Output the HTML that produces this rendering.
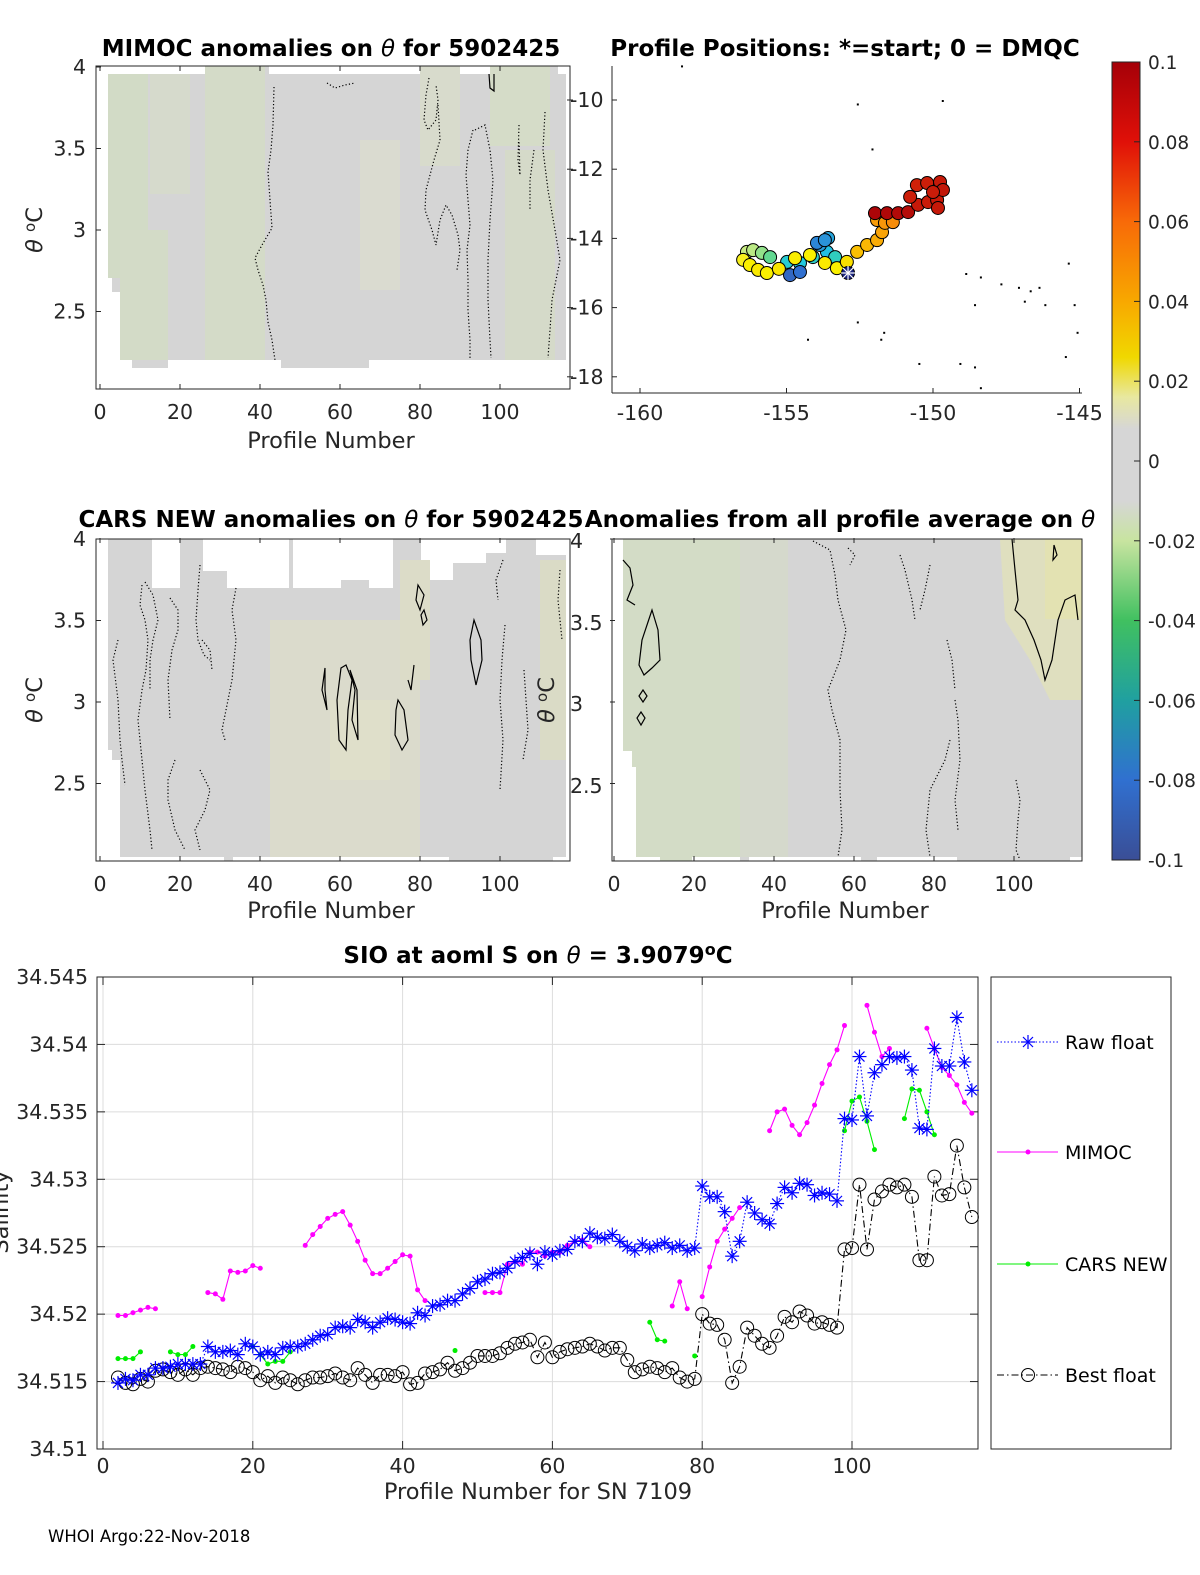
<!DOCTYPE html>
<html><head><meta charset="utf-8"><style>
body{margin:0;background:#fff}
svg{display:block;font-family:"DejaVu Sans","Liberation Sans",sans-serif}
.t{font-size:20.5px;fill:#262626}
.ttl{font-size:23px;font-weight:bold;fill:#000}
.lbl{font-size:22.5px;fill:#262626}
</style></head><body>
<svg id="fig" width="1200" height="1575" viewBox="0 0 1200 1575" xmlns="http://www.w3.org/2000/svg">
<defs>
<linearGradient id="cbg" x1="0" y1="0" x2="0" y2="1">
<stop offset="0" stop-color="#a50008"/><stop offset="0.1" stop-color="#e01008"/><stop offset="0.2" stop-color="#f86a08"/><stop offset="0.3" stop-color="#f8a800"/><stop offset="0.37" stop-color="#f0d800"/><stop offset="0.42" stop-color="#e8e8a0"/><stop offset="0.46" stop-color="#d6d6d6"/><stop offset="0.55" stop-color="#d6d6d6"/><stop offset="0.6" stop-color="#c8e4a0"/><stop offset="0.7" stop-color="#40c060"/><stop offset="0.8" stop-color="#20a0a0"/><stop offset="0.9" stop-color="#3070d0"/><stop offset="1" stop-color="#3a4e96"/>
</linearGradient>
</defs>

<!-- Titles -->
<text class="ttl" x="331" y="56" text-anchor="middle">MIMOC anomalies on <tspan font-style="italic" font-weight="normal">θ</tspan>  for 5902425</text>
<text class="ttl" x="845" y="56" text-anchor="middle">Profile Positions: *=start; 0 = DMQC</text>
<text class="ttl" x="331" y="527" text-anchor="middle">CARS NEW anomalies on <tspan font-style="italic" font-weight="normal">θ</tspan> for 5902425</text>
<text class="ttl" x="840" y="527" text-anchor="middle">Anomalies from all profile average on <tspan font-style="italic" font-weight="normal">θ</tspan></text>
<text class="ttl" x="538" y="963" text-anchor="middle">SIO at aoml S on <tspan font-style="italic" font-weight="normal">θ</tspan> = 3.9079<tspan dy="-8" font-size="16">o</tspan><tspan dy="8">C</tspan></text>

<!-- Top-left heatmap -->
<g>
<polygon fill="#d5d5d5" points="108,74 220,74 220,66 269,66 269,74 490,74 490,66 558,66 558,74 566,74 566,360 369,360 369,368 281,368 281,360 168,360 168,368 132,368 132,360 120,360 120,292 112,292 112,278 108,278"/>
<rect x="108" y="74" width="40" height="204" fill="#d2dbc6"/>
<rect x="120" y="230" width="48" height="130" fill="#d3dbc7"/>
<rect x="150" y="74" width="40" height="120" fill="#d6dacc"/>
<rect x="205" y="66" width="60" height="294" fill="#d4dbc8"/>
<rect x="360" y="140" width="40" height="150" fill="#dadbd0"/>
<rect x="420" y="66" width="40" height="100" fill="#d8dbcc"/>
<rect x="490" y="66" width="60" height="80" fill="#d5dcc8"/>
<rect x="505" y="150" width="50" height="210" fill="#d5dac9"/>
<g fill="none" stroke="#000" stroke-width="1.2" stroke-dasharray="1.2,2.2">
<polyline points="274,87 273,125 271,150 268,172 270,200 272,228 262,245 255,258 258,270 263,285 266,300 268,322 272,340 275,360"/>
<polyline points="429,78 426,95 424,120 428,130 436,120 438,100 436,85"/>
<polyline points="438,105 440,140 434,160 426,190 425,210 432,230 436,245 440,220 446,205 452,215 458,235 460,250 457,270"/>
<polyline points="473,130 468,150 466,175 468,200 470,225 467,250 468,280 468,310 470,340 470,358"/>
<polyline points="475,130 485,125 490,150 493,180 490,220 488,260 488,300 490,340 491,358"/>
<polyline points="519,125 518,160 520,175 519,140"/>
<polyline points="545,112 543,150 548,190 555,230 560,260 552,300 550,330 548,358"/>
<polyline points="534,150 530,180 530,210"/>
<polyline points="327,83 335,88 345,85 355,83"/>
</g>
<polyline points="489,74 490,88 494,91 494,74" fill="none" stroke="#000" stroke-width="1.2"/>
</g>
<rect x="96" y="66" width="474" height="323" fill="none" stroke="#262626" stroke-width="1"/>

<!-- Middle-left heatmap -->
<g>
<polygon fill="#d5d5d5" points="108,539 152,539 152,588 180,588 180,539 203,539 203,571 227,571 227,588 289,588 289,539 293,539 293,588 341,588 341,580 369,580 369,588 393,588 393,539 421,539 421,580 453,580 453,563 486,563 486,553 506,553 506,539 536,539 536,555 566,555 566,857 553,857 553,861 449,861 449,857 233,857 233,861 224,861 224,857 120,857 120,760 112,760 112,750 108,750"/>
<rect x="270" y="620" width="150" height="237" fill="#dbdbcc"/>
<rect x="330" y="700" width="60" height="80" fill="#dfdfca"/>
<rect x="400" y="560" width="30" height="120" fill="#dcdcc8"/>
<rect x="540" y="560" width="26" height="200" fill="#dadbc6"/>
<g fill="none" stroke="#000" stroke-width="1.2" stroke-dasharray="1.2,2.2">
<polyline points="142,585 140,605 145,620 148,640 146,670 142,690 138,720 142,760 145,790 150,830 152,850"/>
<polyline points="145,582 153,595 158,620 153,640 150,660 150,690"/>
<polyline points="118,640 113,660 118,700 120,740 122,760 125,785"/>
<polyline points="170,598 178,610 178,630 172,650 168,680 170,720"/>
<polyline points="200,565 198,590 196,620 198,640 204,655 210,660"/>
<polyline points="236,588 232,610 236,640 232,680 226,710 222,730 225,740"/>
<polyline points="202,640 210,650 212,670"/>
<polyline points="175,760 168,780 168,800 175,830 185,850"/>
<polyline points="200,770 210,790 205,810 195,830 200,850"/>
<polyline points="503,560 496,580 498,600"/>
<polyline points="505,625 502,660 500,700 503,740 500,790"/>
<polyline points="524,670 526,700 528,730 523,760"/>
<polyline points="560,570 558,600 562,640"/>
</g>
<g fill="none" stroke="#000" stroke-width="1.2">
<polygon points="418,585 424,595 420,610 416,600"/>
<polygon points="424,610 427,620 423,625 421,615"/>
<polyline points="414,665 411,690 408,680"/>
<polygon points="325,668 322,690 327,710 325,690"/>
<polygon points="341,668 337,700 339,740 346,750 348,710 352,680 346,665"/>
<polygon points="350,670 357,690 358,740 352,720 355,690"/>
<polygon points="398,700 404,710 408,740 402,750 395,735 396,710"/>
<polygon points="474,620 481,640 482,660 476,685 471,660 470,640"/>
</g>
</g>
<rect x="96" y="539" width="474" height="322" fill="none" stroke="#262626" stroke-width="1"/>

<!-- Middle-right heatmap -->
<g>
<polygon fill="#d5d5d5" points="623,539 1082,539 1082,857 1070,857 1070,861 957,861 957,857 877,857 877,861 861,861 861,857 749,857 749,861 740,861 740,857 692,857 692,861 660,861 660,857 636,857 636,767 632,767 632,751 623,751"/>
<polygon fill="#d3dcc6" points="623,539 740,539 740,857 636,857 636,767 632,767 632,751 623,751"/>
<rect x="740" y="539" width="48" height="318" fill="#d5d9cc"/>
<rect x="660" y="857" width="32" height="4" fill="#d3dcc6"/>
<polygon fill="#dfdfbf" points="1000,539 1082,539 1082,700 1050,700 1030,660 1005,620"/>
<rect x="1045" y="539" width="37" height="80" fill="#e3e2b2"/>
<g fill="none" stroke="#000" stroke-width="1.2" stroke-dasharray="1.2,2.2">
<polyline points="813,541 830,550 835,575 838,600 846,630 840,660 828,690 832,710 840,740 840,790 842,830 838,857"/>
<polyline points="848,548 855,555 850,565"/>
<polyline points="900,555 905,570 912,600 915,620"/>
<polyline points="930,565 925,590 920,610"/>
<polyline points="950,740 945,760 930,790 926,830 930,857"/>
<polyline points="955,700 958,720 960,760 955,800 958,830"/>
<polyline points="947,640 952,660 955,690"/>
<polyline points="1016,780 1020,800 1018,820"/>
<polyline points="1018,820 1016,850 1020,860"/>
</g>
<g fill="none" stroke="#000" stroke-width="1.2">
<polyline points="623,560 630,568 633,585 627,600 635,605"/>
<polygon points="652,610 658,630 660,660 652,668 644,675 639,665 642,640 648,622"/>
<polygon points="643,690 647,696 643,702 639,696"/>
<polygon points="641,712 645,718 641,725 637,718"/>
<polyline points="1012,539 1015,570 1018,600 1015,610 1025,620 1034,640 1041,660 1045,680 1052,660 1058,620 1065,600 1075,595 1078,620"/>
<polygon points="1054,545 1057,555 1053,560"/>
</g>
</g>
<rect x="612" y="539" width="470" height="322" fill="none" stroke="#262626" stroke-width="1"/>

<!-- Map -->
<g id="map"></g>
<line x1="612" y1="66" x2="612" y2="393" stroke="#262626"/>
<line x1="612" y1="393" x2="1082" y2="393" stroke="#262626"/>

<!-- Colorbar -->
<rect x="1112" y="62" width="28" height="798" fill="url(#cbg)" stroke="#262626" stroke-width="1"/>
<g id="cbt"></g>

<!-- Axis tick labels (heatmaps) -->
<g id="hm-ticks"></g>
<text class="lbl" x="331" y="448" text-anchor="middle">Profile Number</text>
<text class="lbl" x="331" y="918" text-anchor="middle">Profile Number</text>
<text class="lbl" x="845" y="918" text-anchor="middle">Profile Number</text>
<text class="lbl" transform="translate(42,230) rotate(-90)" text-anchor="middle"><tspan font-style="italic">θ</tspan> <tspan dy="-7" font-size="15">o</tspan><tspan dy="7">C</tspan></text>
<text class="lbl" transform="translate(42,700) rotate(-90)" text-anchor="middle"><tspan font-style="italic">θ</tspan> <tspan dy="-7" font-size="15">o</tspan><tspan dy="7">C</tspan></text>
<text class="lbl" transform="translate(554,700) rotate(-90)" text-anchor="middle"><tspan font-style="italic">θ</tspan> <tspan dy="-7" font-size="15">o</tspan><tspan dy="7">C</tspan></text>

<!-- Bottom chart -->
<g id="bottom"></g>
<text class="lbl" x="538" y="1499" text-anchor="middle">Profile Number for SN 7109</text>
<text class="lbl" transform="translate(8,1212) rotate(-90)" text-anchor="middle">Salinity</text>
<g>
<rect x="991" y="977" width="180" height="472" fill="#fff" stroke="#262626"/>
<g>
<line x1="997" y1="1042" x2="1058" y2="1042" stroke="#0000ff" stroke-dasharray="1.5,2"/>
<g stroke="#0000ff" stroke-width="1.2"><line x1="1021" y1="1042" x2="1035" y2="1042"/><line x1="1028" y1="1035" x2="1028" y2="1049"/><line x1="1023" y1="1037" x2="1033" y2="1047"/><line x1="1023" y1="1047" x2="1033" y2="1037"/></g>
<text x="1065" y="1049" font-size="19" fill="#000">Raw float</text></g>
<g>
<line x1="997" y1="1152" x2="1058" y2="1152" stroke="#ff00ff"/><circle cx="1028" cy="1152" r="2.5" fill="#ff00ff"/>
<text x="1065" y="1159" font-size="19" fill="#000">MIMOC</text></g>
<g>
<line x1="997" y1="1264" x2="1058" y2="1264" stroke="#00ee00"/><circle cx="1028" cy="1264" r="2.5" fill="#00ee00"/>
<text x="1065" y="1271" font-size="19" fill="#000">CARS NEW</text></g>
<g>
<line x1="997" y1="1375" x2="1058" y2="1375" stroke="#000" stroke-dasharray="7,3,1.5,3"/><circle cx="1028" cy="1375" r="6.5" fill="none" stroke="#000"/>
<text x="1065" y="1382" font-size="19" fill="#000">Best float</text></g>
</g>
<text x="48" y="1542" font-size="16.5" fill="#000">WHOI Argo:22-Nov-2018</text>
</svg>
<script>
// ---- bottom chart data (profile 2..116) ----
const firstProfile = 2;
const rawFloat = [34.5149,34.5152,34.5151,34.5155,34.5155,34.5160,34.5160,34.5161,34.5163,34.5163,34.5163,34.5163,34.5176,34.5172,34.5172,34.5173,34.5170,34.5178,34.5176,34.5170,34.5172,34.5170,34.5175,34.5176,34.5176,34.5178,34.5181,34.5184,34.5185,34.5190,34.5191,34.5190,34.5196,34.5194,34.5190,34.5194,34.5197,34.5196,34.5194,34.5193,34.5201,34.5199,34.5206,34.5207,34.5210,34.5210,34.5215,34.5219,34.5224,34.5226,34.5230,34.5231,34.5234,34.5239,34.5242,34.5245,34.5237,34.5246,34.5244,34.5247,34.5248,34.5254,34.5254,34.5260,34.5257,34.5256,34.5259,34.5254,34.5250,34.5247,34.5252,34.5249,34.5251,34.5253,34.5249,34.5251,34.5247,34.5249,34.5295,34.5287,34.5287,34.5276,34.5243,34.5254,34.5283,34.5275,34.5270,34.5267,34.5282,34.5294,34.5290,34.5297,34.5296,34.5288,34.5290,34.5289,34.5284,34.5345,34.5344,34.5391,34.5347,34.5379,34.5385,34.5391,34.5390,34.5391,34.5381,34.5338,34.5337,34.5397,34.5384,34.5384,34.5420,34.5387,34.5366];
const bestFloat = [34.5153,34.5149,34.5148,34.5152,34.5150,34.5158,34.5159,34.5157,34.5155,34.5159,34.5155,34.5160,34.5161,34.5160,34.5159,34.5157,34.5161,34.5160,34.5157,34.5151,34.5154,34.5149,34.5153,34.5151,34.5148,34.5151,34.5153,34.5153,34.5154,34.5156,34.5153,34.5151,34.5160,34.5155,34.5149,34.5155,34.5155,34.5154,34.5157,34.5148,34.5149,34.5156,34.5157,34.5159,34.5164,34.5158,34.5160,34.5164,34.5169,34.5169,34.5169,34.5171,34.5175,34.5178,34.5179,34.5181,34.5168,34.5179,34.5168,34.5172,34.5174,34.5175,34.5176,34.5178,34.5176,34.5173,34.5175,34.5175,34.5166,34.5157,34.5159,34.5161,34.5160,34.5157,34.5160,34.5153,34.5150,34.5152,34.5200,34.5193,34.5192,34.5181,34.5149,34.5161,34.5190,34.5184,34.5178,34.5175,34.5184,34.5198,34.5194,34.5202,34.5199,34.5193,34.5194,34.5192,34.5190,34.5248,34.5249,34.5296,34.5248,34.5285,34.5291,34.5296,34.5294,34.5296,34.5287,34.5240,34.5240,34.5302,34.5288,34.5289,34.5325,34.5294,34.5272];
const mimoc = [34.5199,34.5199,34.5201,34.5203,34.5205,34.5204,null,null,null,null,null,null,34.5216,34.5215,34.5211,34.5232,34.5231,34.5232,34.5236,34.5234,null,null,null,null,null,34.5251,34.5259,34.5265,34.5271,34.5274,34.5276,34.5266,34.5254,34.5240,34.5230,34.5230,34.5234,34.5239,34.5244,34.5243,34.5218,34.5210,null,null,null,null,null,null,null,34.5216,34.5216,34.5216,34.5237,34.5239,34.5237,34.5246,34.5246,34.5243,34.5246,34.5246,34.5251,34.5254,34.5255,34.5250,null,null,null,null,null,null,null,null,null,null,34.5206,34.5224,34.5204,null,34.5213,34.5235,34.5254,34.5263,34.5271,34.5279,null,null,null,34.5336,34.5350,34.5352,34.5340,34.5333,34.5342,34.5355,34.5371,34.5385,34.5396,34.5414,null,null,34.5429,34.5409,34.5391,34.5397,null,null,null,null,34.5412,34.5397,34.5383,34.5377,34.5370,34.5357,34.5349];
const carsNew = [34.5167,34.5167,34.5167,34.5172,null,null,null,34.5172,34.5170,34.5170,34.5176,null,null,null,null,null,null,null,34.5176,34.5170,34.5163,34.5165,34.5165,34.5172,null,null,null,null,null,null,null,null,null,null,null,null,null,null,null,null,null,null,null,null,null,34.5173,null,null,null,null,null,null,null,null,null,null,null,null,null,null,null,null,null,null,null,null,null,null,null,null,null,34.5194,34.5181,34.5180,null,null,null,34.5169,null,null,null,null,null,null,null,null,null,null,null,null,null,null,null,null,null,null,null,34.5336,34.5358,34.5361,34.5343,34.5322,null,null,null,34.5345,34.5367,34.5366,34.5350,34.5333,null,null,null,null,null];
const xTicks = [0,20,40,60,80,100];
const yTicks = [34.51,34.515,34.52,34.525,34.53,34.535,34.54,34.545];
const yTickLabels = ["34.51","34.515","34.52","34.525","34.53","34.535","34.54","34.545"];
// ---- map data ----
const trackLon = [-154.98,-154.54,-154.10,-153.62,-153.34,-153.86,-153.58,-154.88,-153.96,-153.69,-154.54,-156.35,-156.14,-155.84,-155.56,-156.48,-156.25,-155.97,-155.67,-155.26,-154.71,-154.20,-153.69,-153.28,-152.94,-152.59,-152.25,-151.91,-151.74,-151.91,-151.64,-151.37,-151.98,-151.57,-151.19,-150.85,-150.51,-150.17,-149.86,-150.78,-150.55,-150.20,-149.76,-149.66,-150.00,-149.83];
const trackLat = [-14.68,-14.71,-14.54,-14.39,-14.54,-14.19,-13.99,-15.06,-14.13,-14.05,-14.97,-14.39,-14.34,-14.42,-14.54,-14.62,-14.77,-14.91,-15.00,-14.88,-14.57,-14.48,-14.71,-14.86,-14.68,-14.39,-14.19,-14.05,-13.82,-13.47,-13.55,-13.53,-13.27,-13.27,-13.27,-13.24,-13.03,-12.95,-12.89,-12.80,-12.46,-12.40,-12.37,-12.60,-12.66,-13.12];
const trackVal = [-0.055,-0.058,-0.052,-0.062,-0.05,-0.07,-0.068,-0.085,-0.075,-0.072,-0.08,-0.02,-0.022,-0.028,-0.035,0.028,0.03,0.032,0.03,0.033,0.031,0.03,0.032,0.03,0.035,0.045,0.048,0.052,0.055,0.058,0.06,0.062,0.098,0.097,0.096,0.095,0.09,0.089,0.09,0.088,0.087,0.088,0.09,0.091,0.089,0.09];
const startLon = -152.9, startLat = -15.0;
const islandLon = [-148.9,-148.4,-147.7,-147.1,-146.7,-146.4,-145.4,-145.2,-146.9,-148.6,-146.2,-152.6,-151.7,-151.8,-154.3,-145.1,-145.5,-149.1,-148.6,-150.5,-148.4,-149.7,-152.6,-152.1,-158.6];
const islandLat = [-15.0,-15.1,-15.3,-15.4,-15.5,-15.4,-14.7,-15.9,-15.8,-15.9,-15.9,-16.4,-16.7,-16.9,-16.9,-16.7,-17.4,-17.6,-17.7,-17.6,-18.3,-10.0,-10.1,-11.4,-9.0];
const mapXTicks = [-160,-155,-150,-145];
const mapYTicks = [-10,-12,-14,-16,-18];
const cbTicks = [0.1,0.08,0.06,0.04,0.02,0,-0.02,-0.04,-0.06,-0.08,-0.1];
const hmXTicks = [0,20,40,60,80,100];
const hmYTicks = [4,3.5,3,2.5];

const NS = "http://www.w3.org/2000/svg";
function mk(parent, tag, attrs){const e=document.createElementNS(NS,tag);for(const k in attrs)e.setAttribute(k,attrs[k]);parent.appendChild(e);return e;}

// bottom chart axes
const bx = p => 103 + p*7.49;
const by = v => 977 + (34.545 - v)/0.035*472;
const B = document.getElementById('bottom');
for (const t of xTicks){const l=mk(B,'line',{x1:bx(t),x2:bx(t),y1:977,y2:1449,stroke:'#dcdcdc'});

}
for (const t of yTicks){const l=mk(B,'line',{x1:97,x2:978,y1:by(t),y2:by(t),stroke:'#dcdcdc'});

}
const frame = mk(B,'rect',{x:97,y:977,width:881,height:472,fill:'none',stroke:'#262626'});


xTicks.forEach(t=>{mk(B,'line',{x1:bx(t),x2:bx(t),y1:1449,y2:1441,stroke:'#262626'});mk(B,'line',{x1:bx(t),x2:bx(t),y1:977,y2:985,stroke:'#262626'});
const tx=mk(B,'text',{x:bx(t),y:1473,'text-anchor':'middle',class:'t'});tx.textContent=t;

});
yTicks.forEach((t,i)=>{mk(B,'line',{x1:97,x2:105,y1:by(t),y2:by(t),stroke:'#262626'});mk(B,'line',{x1:970,x2:978,y1:by(t),y2:by(t),stroke:'#262626'});
const tx=mk(B,'text',{x:88,y:by(t)+7,'text-anchor':'end',class:'t'});tx.textContent=yTickLabels[i];

});

function segs(arr){const out=[];let cur=[];arr.forEach((v,i)=>{if(v===null){if(cur.length)out.push(cur);cur=[];}else cur.push([bx(firstProfile+i),by(v)]);});if(cur.length)out.push(cur);return out;}
function drawLine(arr,color,dash,name){const g=mk(B,'g',{});


segs(arr).forEach(s=>{if(s.length>1)mk(g,'polyline',{points:s.map(p=>p.join(',')).join(' '),fill:'none',stroke:color,'stroke-width':1.1,'stroke-dasharray':dash||'none'});});return g;}

const gb=drawLine(bestFloat,'#000','7,3,1.5,3','best-float-series');
bestFloat.forEach((v,i)=>{if(v===null)return;const c=mk(gb,'circle',{cx:bx(firstProfile+i),cy:by(v),r:6.5,fill:'none',stroke:'#000','stroke-width':1});

});
const gm=drawLine(mimoc,'#ff00ff',null,'mimoc-series');
mimoc.forEach((v,i)=>{if(v===null)return;const c=mk(gm,'circle',{cx:bx(firstProfile+i),cy:by(v),r:2.5,fill:'#ff00ff'});

});
const gc=drawLine(carsNew,'#00ee00',null,'cars-new-series');
carsNew.forEach((v,i)=>{if(v===null)return;const c=mk(gc,'circle',{cx:bx(firstProfile+i),cy:by(v),r:2.5,fill:'#00ee00'});

});
const gr=drawLine(rawFloat,'#0000ff','1.5,2','raw-float-series');
rawFloat.forEach((v,i)=>{if(v===null)return;const x=bx(firstProfile+i),y=by(v);const s=mk(gr,'g',{stroke:'#0000ff','stroke-width':1.2});


mk(s,'line',{x1:x-7,x2:x+7,y1:y,y2:y});mk(s,'line',{x1:x,x2:x,y1:y-7,y2:y+7});mk(s,'line',{x1:x-5,x2:x+5,y1:y-5,y2:y+5});mk(s,'line',{x1:x-5,x2:x+5,y1:y+5,y2:y-5});});

// map
const mx = lon => 640 + (lon+160)*29.3;
const my = lat => 100 + (-10-lat)*34.6;
const M = document.getElementById('map');
function colorOf(v){const st=[[-0.1,[58,78,150]],[-0.08,[48,112,208]],[-0.06,[32,200,230]],[-0.04,[64,210,150]],[-0.02,[200,235,130]],[0,[214,214,214]],[0.02,[235,235,140]],[0.03,[250,240,0]],[0.04,[250,205,0]],[0.06,[248,150,10]],[0.08,[230,50,10]],[0.1,[165,0,8]]];
for(let i=0;i<st.length-1;i++){if(v<=st[i+1][0]){const f=(v-st[i][0])/(st[i+1][0]-st[i][0]);const c=st[i][1].map((a,k)=>Math.round(a+(st[i+1][1][k]-a)*Math.max(0,Math.min(1,f))));return `rgb(${c})`;}}return 'rgb(165,0,8)';}
islandLon.forEach((lo,i)=>{const r=mk(M,'rect',{x:mx(lo),y:my(islandLat[i]),width:2,height:2,fill:'#000'});

});
trackLon.forEach((lo,i)=>{const c=mk(M,'circle',{cx:mx(lo),cy:my(trackLat[i]),r:6.5,fill:colorOf(trackVal[i]),stroke:'#000','stroke-width':1});

});
const sx=mx(startLon),sy=my(startLat);
const sg=mk(M,'g',{});


mk(sg,'circle',{cx:sx,cy:sy,r:6.5,fill:'#1a237e',stroke:'#000'});
[[7,0],[0,7],[5,5],[5,-5]].forEach(d=>mk(sg,'line',{x1:sx-d[0],y1:sy-d[1],x2:sx+d[0],y2:sy+d[1],stroke:'#fff','stroke-width':1.2}));
mapXTicks.forEach(t=>{mk(M,'line',{x1:mx(t),x2:mx(t),y1:393,y2:388,stroke:'#262626'});const tx=mk(M,'text',{x:mx(t),y:420,'text-anchor':'middle',class:'t'});tx.textContent=t;

});
mapYTicks.forEach(t=>{mk(M,'line',{x1:612,x2:617,y1:my(t),y2:my(t),stroke:'#262626'});mk(M,'line',{x1:567,x2:573,y1:my(t),y2:my(t),stroke:'#262626'});const tx=mk(M,'text',{x:570,y:my(t)+7,class:'t'});tx.textContent=t;

});

// colorbar ticks
const cy = v => 62 + (0.1 - v)/0.2*798;
const CB=document.getElementById('cbt');
cbTicks.forEach(t=>{mk(CB,'line',{x1:1134,x2:1140,y1:cy(t),y2:cy(t),stroke:'#262626'});const tx=mk(CB,'text',{x:1148,y:cy(t)+7,class:'t',style:'font-size:18.5px'});tx.textContent=t;

});

// heatmap ticks
const H=document.getElementById('hm-ticks');
function hmTicks(x0,top,bottom,labelY,yLabels){
const hx=p=>x0+p*4.0;const hy=v=>top+1+(4-v)*163;
hmXTicks.forEach(t=>{mk(H,'line',{x1:hx(t),x2:hx(t),y1:bottom,y2:bottom-5,stroke:'#262626'});mk(H,'line',{x1:hx(t),x2:hx(t),y1:top,y2:top+5,stroke:'#262626'});const tx=mk(H,'text',{x:hx(t),y:bottom+30,'text-anchor':'middle',class:'t'});tx.textContent=t;

});
hmYTicks.forEach(t=>{const y=hy(t);mk(H,'line',{x1:x0-4,x2:x0+1,y1:y,y2:y,stroke:'#262626'});if(yLabels){const tx=mk(H,'text',{x:x0-14,y:y+7,'text-anchor':'end',class:'t'});tx.textContent=t;

}});}
hmTicks(100,66,389,0,true);
hmTicks(100,538,861,0,true);
hmTicks(614,538,861,0,false);
[[4,541],[3.5,623],[3,704],[2.5,786]].forEach(a=>{const tx=mk(H,'text',{x:570,y:a[1]+7,class:'t'});tx.textContent=a[0];

});
</script>
</body></html>
